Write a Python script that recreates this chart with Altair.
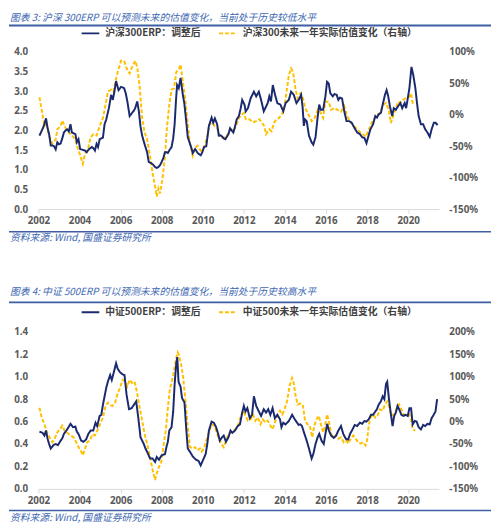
import altair as alt
import pandas as pd

# ---------------- data ----------------
HS_TITLE = "图表 3:  沪深 300ERP 可以预测未来的估值变化，当前处于历史较低水平"
ZZ_TITLE = "图表 4:  中证 500ERP 可以预测未来的估值变化，当前处于历史较高水平"
SOURCE = "资料来源: Wind, 国盛证券研究所"
HS_S1 = "沪深300ERP：调整后"
HS_S2 = "沪深300未来一年实际估值变化（右轴）"
ZZ_S1 = "中证500ERP：调整后"
ZZ_S2 = "中证500未来一年实际估值变化（右轴）"

X_TICKS = [2002, 2004, 2006, 2008, 2010, 2012, 2014, 2016, 2018, 2020]
HS_LEFT_TICKS = [0.0, 0.5, 1.0, 1.5, 2.0, 2.5, 3.0, 3.5, 4.0]
HS_RIGHT_TICKS = [-150, -100, -50, 0, 50, 100]
ZZ_LEFT_TICKS = [0.0, 0.2, 0.4, 0.6, 0.8, 1.0, 1.2, 1.4]
ZZ_RIGHT_TICKS = [-150, -100, -50, 0, 50, 100, 150, 200]

hs_erp_x = [2002.05, 2002.25, 2002.37, 2002.45, 2002.52, 2002.6, 2002.68, 2002.76, 2002.84, 2002.92,
            2003.0, 2003.08, 2003.16, 2003.24, 2003.32, 2003.4, 2003.48, 2003.56, 2003.63, 2003.72,
            2003.8, 2003.87, 2003.95, 2004.03, 2004.15, 2004.27, 2004.35, 2004.45, 2004.6, 2004.68,
            2004.75, 2004.83, 2004.9, 2004.98, 2005.06, 2005.14, 2005.22, 2005.3, 2005.43, 2005.54,
            2005.62, 2005.7, 2005.78, 2005.9, 2006.02, 2006.1, 2006.17, 2006.25, 2006.33, 2006.44,
            2006.56, 2006.64, 2006.71, 2006.81, 2006.89, 2006.97, 2007.05, 2007.13, 2007.21, 2007.29,
            2007.37, 2007.45, 2007.52, 2007.6, 2007.68, 2007.76, 2007.84, 2007.92, 2008.0, 2008.08,
            2008.16, 2008.24, 2008.3, 2008.4, 2008.48, 2008.56, 2008.63, 2008.7, 2008.75, 2008.83,
            2008.92, 2009.03, 2009.1, 2009.16, 2009.22, 2009.27, 2009.38, 2009.45, 2009.51, 2009.63,
            2009.75, 2009.82, 2009.9, 2009.98, 2010.06, 2010.17, 2010.3, 2010.43, 2010.51, 2010.59,
            2010.7, 2010.78, 2010.86, 2010.94, 2011.02, 2011.1, 2011.25, 2011.33, 2011.41, 2011.49,
            2011.57, 2011.65, 2011.76, 2011.84, 2011.92, 2012.03, 2012.09, 2012.2, 2012.33, 2012.49,
            2012.6, 2012.73, 2012.84, 2012.97, 2013.08, 2013.16, 2013.24, 2013.32, 2013.41, 2013.52,
            2013.63, 2013.7, 2013.78, 2013.92, 2014.03, 2014.19, 2014.3, 2014.43, 2014.56, 2014.67,
            2014.79, 2014.86, 2014.92, 2014.98, 2015.06, 2015.17, 2015.3, 2015.38, 2015.49, 2015.59,
            2015.67, 2015.75, 2015.86, 2015.97, 2016.05, 2016.13, 2016.21, 2016.33, 2016.41, 2016.52,
            2016.6, 2016.68, 2016.78, 2016.89, 2017.0, 2017.13, 2017.25, 2017.37, 2017.52, 2017.65,
            2017.76, 2017.87, 2017.97, 2018.05, 2018.16, 2018.29, 2018.4, 2018.48, 2018.56, 2018.67,
            2018.76, 2018.87, 2018.95, 2019.03, 2019.11, 2019.22, 2019.3, 2019.4, 2019.51, 2019.62,
            2019.71, 2019.83, 2019.9, 2019.98, 2020.06, 2020.16, 2020.25, 2020.35, 2020.43, 2020.51,
            2020.62, 2020.73, 2020.83, 2020.94, 2021.05, 2021.14, 2021.25, 2021.33, 2021.43]
hs_erp_v = [1.87, 2.1, 2.31, 2.05, 1.91, 1.62, 1.62, 1.6, 1.52, 1.7,
            1.65, 1.67, 1.8, 1.95, 2.0, 2.03, 1.98, 2.16, 1.95, 1.93,
            1.91, 1.7, 1.78, 1.53, 1.51, 1.49, 1.45, 1.52, 1.58, 1.55,
            1.49, 1.66, 1.58, 1.78, 1.8, 1.82, 2.16, 2.28, 2.57, 2.91,
            2.78, 3.0, 3.26, 3.03, 3.11, 3.1, 3.08, 2.95, 2.74, 2.37,
            2.45, 2.5, 2.57, 2.74, 2.49, 2.1, 1.87, 1.72, 1.58, 1.45,
            1.2, 1.18, 1.16, 1.12, 1.07, 1.05, 1.07, 1.12, 1.2, 1.3,
            1.45, 1.45, 1.43, 1.52, 1.58, 1.8, 2.16, 2.8, 3.16, 3.08,
            3.34, 2.91, 2.7, 2.41, 2.1, 1.83, 1.66, 1.55, 1.43, 1.53,
            1.43, 1.4, 1.37, 1.45, 1.58, 1.6, 2.12, 2.33, 2.2, 2.31,
            2.16, 1.87, 1.88, 1.85, 1.8, 1.78, 1.91, 2.06, 2.0, 1.95,
            2.1, 2.28, 2.37, 2.55, 2.78, 2.66, 2.49, 2.57, 2.82, 2.99,
            2.87, 2.99, 2.78, 2.49, 2.61, 2.7, 2.87, 2.74, 3.16, 2.91,
            2.7, 2.68, 2.66, 2.49, 2.7, 2.78, 2.99, 2.91, 2.7, 2.78,
            2.91, 2.6, 2.12, 2.28, 2.24, 1.87, 1.7, 1.64, 1.83, 2.33,
            2.66, 2.53, 2.53, 2.87, 3.24, 3.2, 2.95, 2.87, 2.93, 2.91,
            2.78, 2.84, 2.82, 2.49, 2.24, 2.24, 2.2, 2.08, 1.95, 1.91,
            1.83, 1.81, 1.68, 1.83, 2.03, 2.16, 2.37, 2.33, 2.41, 2.45,
            2.66, 2.91, 3.03, 2.87, 2.62, 2.37, 2.57, 2.53, 2.62, 2.7,
            2.57, 2.7, 2.57, 2.82, 3.08, 3.62, 3.41, 3.08, 2.7, 2.37,
            2.16, 2.16, 2.03, 1.95, 1.84, 2.03, 2.2, 2.2, 2.14]

hs_chg_x = [2002.05, 2002.2, 2002.3, 2002.37, 2002.52, 2002.68, 2002.84, 2002.92, 2003.08, 2003.16,
            2003.32, 2003.48, 2003.63, 2003.8, 2003.87, 2004.03, 2004.16, 2004.27, 2004.43, 2004.54,
            2004.67, 2004.83, 2004.98, 2005.14, 2005.27, 2005.38, 2005.54, 2005.65, 2005.78, 2005.9,
            2006.02, 2006.17, 2006.33, 2006.44, 2006.56, 2006.71, 2006.81, 2006.92, 2007.05, 2007.17,
            2007.29, 2007.44, 2007.56, 2007.68, 2007.76, 2007.84, 2007.92, 2008.03, 2008.16, 2008.24,
            2008.37, 2008.48, 2008.6, 2008.71, 2008.84, 2008.92, 2009.03, 2009.16, 2009.27, 2009.38,
            2009.51, 2009.63, 2009.75, 2009.9, 2010.06, 2010.21, 2010.33, 2010.46, 2010.59, 2010.7,
            2010.81, 2010.94, 2011.1, 2011.25, 2011.37, 2011.49, 2011.65, 2011.76, 2011.89, 2012.0,
            2012.1, 2012.27, 2012.43, 2012.6, 2012.76, 2012.87, 2013.0, 2013.08, 2013.24, 2013.35,
            2013.48, 2013.6, 2013.71, 2013.84, 2013.95, 2014.06, 2014.19, 2014.3, 2014.4, 2014.51,
            2014.62, 2014.75, 2014.87, 2015.0, 2015.15, 2015.3, 2015.45, 2015.6, 2015.7, 2015.86,
            2015.97, 2016.13, 2016.25, 2016.41, 2016.56, 2016.73, 2016.89, 2017.02, 2017.21, 2017.37,
            2017.52, 2017.68, 2017.84, 2017.92, 2018.05, 2018.19, 2018.32, 2018.48, 2018.63, 2018.79,
            2018.92, 2019.05, 2019.16, 2019.27, 2019.4, 2019.51, 2019.62, 2019.75, 2019.9, 2020.06,
            2020.14, 2020.22, 2020.33]
hs_chg_v = [28, 0, -18, -12, -33, -46, -39, -23, -18, -9,
            -21, -28, -33, -39, -49, -64, -78, -62, -52, -36,
            -31, -33, -18, -5, 16, 37, 40, 37, 58, 73,
            86, 86, 71, 66, 76, 86, 76, 47, -5, -28,
            -39, -67, -93, -114, -130, -117, -125, -104, -67, -26,
            16, 40, 42, 68, 73, 80, 53, 21, -15, -46,
            -65, -52, -49, -57, -52, -36, -15, -12, -18, -20,
            -33, -36, -36, -30, -23, -26, -15, -5, 0, 3,
            -7, -7, -12, -10, -7, -12, -18, -31, -23, -26,
            -12, -7, -5, 0, 8, 32, 63, 74, 68, 42,
            26, 34, 27, 10, 0, -10, -5, 8, 6, -5,
            21, 21, 8, 11, 8, 5, 14, -2, -12, -18,
            -23, -28, -32, -35, -26, -15, -7, 0, 3, 16,
            19, 8, -13, -2, 11, 21, 19, 24, 27, 29,
            34, 19, 16]

zz_erp_x = [2002.05, 2002.2, 2002.29, 2002.37, 2002.44, 2002.52, 2002.6, 2002.73, 2002.84, 2002.95,
            2003.08, 2003.16, 2003.24, 2003.4, 2003.56, 2003.68, 2003.8, 2003.87, 2003.95, 2004.08,
            2004.19, 2004.32, 2004.43, 2004.54, 2004.67, 2004.78, 2004.86, 2004.98, 2005.06, 2005.14,
            2005.22, 2005.3, 2005.38, 2005.49, 2005.57, 2005.67, 2005.78, 2005.86, 2005.97, 2006.1,
            2006.19, 2006.29, 2006.41, 2006.54, 2006.65, 2006.76, 2006.86, 2006.97, 2007.05, 2007.13,
            2007.21, 2007.29, 2007.44, 2007.56, 2007.68, 2007.76, 2007.87, 2008.0, 2008.16, 2008.24,
            2008.3, 2008.37, 2008.48, 2008.56, 2008.63, 2008.71, 2008.76, 2008.82, 2008.92, 2008.99,
            2009.11, 2009.19, 2009.27, 2009.38, 2009.51, 2009.67, 2009.79, 2009.9, 2010.02, 2010.14,
            2010.22, 2010.3, 2010.43, 2010.54, 2010.65, 2010.75, 2010.83, 2010.94, 2011.02, 2011.13,
            2011.25, 2011.35, 2011.44, 2011.57, 2011.7, 2011.81, 2011.92, 2012.0, 2012.08, 2012.17,
            2012.29, 2012.4, 2012.49, 2012.6, 2012.73, 2012.84, 2012.97, 2013.08, 2013.19, 2013.29,
            2013.4, 2013.51, 2013.63, 2013.76, 2013.83, 2013.92, 2014.03, 2014.19, 2014.35, 2014.48,
            2014.59, 2014.67, 2014.75, 2014.83, 2014.95, 2015.06, 2015.17, 2015.3, 2015.38, 2015.49,
            2015.59, 2015.67, 2015.78, 2015.89, 2015.98, 2016.06, 2016.14, 2016.25, 2016.38, 2016.49,
            2016.6, 2016.73, 2016.84, 2016.97, 2017.08, 2017.17, 2017.29, 2017.4, 2017.52, 2017.65,
            2017.76, 2017.87, 2017.97, 2018.08, 2018.19, 2018.29, 2018.4, 2018.48, 2018.56, 2018.67,
            2018.76, 2018.84, 2018.92, 2018.98, 2019.06, 2019.14, 2019.24, 2019.32, 2019.4, 2019.48,
            2019.56, 2019.67, 2019.78, 2019.87, 2019.98, 2020.06, 2020.14, 2020.22, 2020.32, 2020.41,
            2020.51, 2020.62, 2020.73, 2020.83, 2020.94, 2021.05, 2021.14, 2021.24, 2021.33, 2021.41]
zz_erp_v = [0.51, 0.5, 0.475, 0.52, 0.45, 0.4, 0.36, 0.39, 0.4, 0.39,
            0.43, 0.45, 0.49, 0.53, 0.58, 0.55, 0.555, 0.51, 0.49, 0.43,
            0.42, 0.44, 0.49, 0.52, 0.52, 0.59, 0.56, 0.65, 0.66, 0.75,
            0.825, 0.9, 0.955, 1.015, 0.97, 1.04, 1.12, 1.07, 1.04, 1.02,
            1.015, 0.84, 0.71, 0.72, 0.75, 0.78, 0.635, 0.46, 0.43, 0.4,
            0.36, 0.33, 0.27, 0.27, 0.24, 0.285, 0.26, 0.3, 0.31, 0.38,
            0.42, 0.52, 0.55, 0.69, 0.93, 1.12, 1.175, 0.955, 0.91, 0.81,
            0.77, 0.55, 0.36, 0.33, 0.29, 0.26, 0.25, 0.21, 0.26, 0.31,
            0.4, 0.52, 0.6, 0.59, 0.55, 0.49, 0.43, 0.46, 0.475, 0.42,
            0.46, 0.52, 0.5, 0.52, 0.56, 0.575, 0.68, 0.74, 0.69, 0.72,
            0.63, 0.66, 0.825, 0.74, 0.69, 0.65, 0.71, 0.68, 0.71, 0.66,
            0.72, 0.63, 0.66, 0.62, 0.55, 0.59, 0.575, 0.605, 0.66, 0.62,
            0.59, 0.57, 0.575, 0.56, 0.49, 0.43, 0.36, 0.27, 0.31, 0.4,
            0.46, 0.49, 0.43, 0.4, 0.5, 0.58, 0.52, 0.475, 0.455, 0.475,
            0.52, 0.56, 0.49, 0.445, 0.44, 0.49, 0.53, 0.57, 0.56, 0.59,
            0.58, 0.605, 0.6, 0.62, 0.66, 0.66, 0.69, 0.71, 0.75, 0.78,
            0.825, 0.8, 0.935, 0.955, 0.81, 0.69, 0.56, 0.65, 0.68, 0.74,
            0.71, 0.66, 0.65, 0.66, 0.65, 0.72, 0.72, 0.575, 0.605, 0.6,
            0.55, 0.53, 0.57, 0.56, 0.58, 0.575, 0.63, 0.66, 0.69, 0.8]

zz_chg_x = [2002.05, 2002.16, 2002.29, 2002.41, 2002.57, 2002.68, 2002.79, 2002.92, 2003.05, 2003.16,
            2003.27, 2003.4, 2003.56, 2003.71, 2003.84, 2003.95, 2004.06, 2004.16, 2004.27, 2004.38,
            2004.51, 2004.63, 2004.75, 2004.9, 2005.03, 2005.14, 2005.27, 2005.38, 2005.49, 2005.6,
            2005.73, 2005.84, 2005.97, 2006.1, 2006.22, 2006.33, 2006.44, 2006.56, 2006.68, 2006.79,
            2006.9, 2007.02, 2007.17, 2007.33, 2007.46, 2007.56, 2007.68, 2007.76, 2007.87, 2007.98,
            2008.1, 2008.2, 2008.3, 2008.4, 2008.55, 2008.7, 2008.78, 2008.84, 2008.94, 2009.05,
            2009.16, 2009.27, 2009.38, 2009.51, 2009.63, 2009.75, 2009.86, 2009.95, 2010.06, 2010.17,
            2010.3, 2010.43, 2010.54, 2010.65, 2010.78, 2010.9, 2011.02, 2011.14, 2011.25, 2011.37,
            2011.49, 2011.6, 2011.73, 2011.86, 2011.97, 2012.08, 2012.2, 2012.33, 2012.44, 2012.56,
            2012.68, 2012.81, 2012.92, 2013.05, 2013.16, 2013.29, 2013.4, 2013.51, 2013.63, 2013.76,
            2013.87, 2013.98, 2014.1, 2014.24, 2014.35, 2014.43, 2014.51, 2014.62, 2014.75, 2014.87,
            2014.98, 2015.1, 2015.21, 2015.33, 2015.43, 2015.54, 2015.65, 2015.75, 2015.86, 2015.97,
            2016.05, 2016.14, 2016.25, 2016.38, 2016.49, 2016.6, 2016.73, 2016.86, 2016.97, 2017.08,
            2017.21, 2017.33, 2017.44, 2017.56, 2017.68, 2017.81, 2017.92, 2018.0, 2018.08, 2018.16,
            2018.29, 2018.4, 2018.51, 2018.63, 2018.76, 2018.87, 2018.98, 2019.08, 2019.19, 2019.3,
            2019.43, 2019.56, 2019.67, 2019.78, 2019.92, 2020.05, 2020.14, 2020.22, 2020.35]
zz_chg_v = [31, 9, -6, -24, -38, -46, -38, -24, -17, -9,
            -20, -25, -31, -35, -46, -57, -64, -75, -60, -46,
            -42, -28, -31, -17, -2, 9, 35, 42, 37, 35,
            42, 60, 75, 93, 89, 78, 93, 86, 89, 67,
            38, 9, -28, -57, -86, -108, -130, -115, -101, -90,
            -50, -20, 30, 72, 100, 140, 154, 148, 129, 97,
            45, -13, -57, -60, -57, -64, -60, -67, -60, -42,
            -24, -6, -9, -20, -38, -49, -57, -42, -28, -24,
            -20, -17, -6, 13, 24, 13, 2, 5, 16, 2,
            9, -6, 5, -2, 2, -9, -17, -2, 13, 24,
            16, 27, 45, 82, 97, 86, 60, 38, 40, 38,
            2, -6, -9, -35, -9, 5, 13, -6, -24, -6,
            16, 2, -28, -35, -31, -38, -35, -46, -42, -49,
            -38, -31, -38, -46, -49, -46, -53, -42, -9, 9,
            16, 9, 13, 27, 24, 38, 45, 31, 13, 16,
            27, 38, 27, 16, 13, 16, 5, -17, -20]

# ---------------- styles ----------------
NAVY = "#1B2A6E"
GOLD = "#FFC000"
TITLE_BLUE = "#4068B2"
RULE_BLUE = "#3F5FA5"
LABEL_GREY = "#595959"
CJK = "Noto Sans CJK SC"
NUM = "Noto Sans"
PW, PH = 408, 160


def panel(title, s1, s2, ex, ev, cx, cv, ldom, lticks, lfmt, rdom, rticks,
          title_y, rule_y, legend_y, bottom_rule_y, source_y):
    d1 = pd.DataFrame({"year": ex, "v": ev, "series": s1})
    d2 = pd.DataFrame({"year": cx, "v": cv, "series": s2})

    leg = alt.Legend(title=None, orient="none", legendX=43, legendY=legend_y,
                     direction="horizontal", symbolType="stroke", symbolSize=324,
                     symbolStrokeWidth=2, labelFont=CJK, labelFontSize=10,
                     labelFontWeight="bold", labelColor="#404040", columnPadding=14,
                     labelOffset=5, padding=0, labelLimit=400)
    color = alt.Color("series:N", scale=alt.Scale(domain=[s1, s2], range=[NAVY, GOLD]), legend=leg)
    dash = alt.StrokeDash("series:N", scale=alt.Scale(domain=[s1, s2], range=[[1, 0], [4, 2]]), legend=leg)

    xenc = alt.X("year:Q", scale=alt.Scale(domain=[2002, 2021.5], nice=False, zero=False),
                 axis=alt.Axis(values=X_TICKS, format="d", title=None, grid=False,
                               domainColor="#D9D9D9", tickColor="#D9D9D9", tickSize=4,
                               labelPadding=3, labelFlush=False, labelOverlap=False,
                               labelFont=NUM, labelFontSize=10, labelFontWeight="bold",
                               labelColor=LABEL_GREY))

    right = alt.Chart(d2).mark_line(strokeWidth=2).encode(
        x=xenc,
        y=alt.Y("v:Q", scale=alt.Scale(domain=rdom, nice=False, zero=False),
                axis=alt.Axis(orient="right", values=rticks, title=None, grid=False,
                              domain=False, ticks=False, tickSize=0, labelPadding=10,
                              labelExpr="datum.value + '%'", labelFont=NUM,
                              labelFontSize=10, labelFontWeight="bold",
                              labelColor=LABEL_GREY)),
        color=color, strokeDash=dash)

    left = alt.Chart(d1).mark_line(strokeWidth=2).encode(
        x=xenc,
        y=alt.Y("v:Q", scale=alt.Scale(domain=ldom, nice=False, zero=False),
                axis=alt.Axis(orient="left", values=lticks, format=lfmt, title=None,
                              grid=False, domain=False, ticks=False, tickSize=0,
                              labelPadding=11, labelFont=NUM, labelFontSize=10,
                              labelFontWeight="bold", labelColor=LABEL_GREY)),
        color=color, strokeDash=dash)

    ttl = alt.Chart(pd.DataFrame({"t": [title]})).mark_text(
        align="left", baseline="middle", font=CJK, fontSize=10, fontStyle="italic",
        color=TITLE_BLUE).encode(text="t:N", x=alt.value(-29), y=alt.value(title_y))
    src = alt.Chart(pd.DataFrame({"t": [SOURCE]})).mark_text(
        align="left", baseline="middle", font=CJK, fontSize=10, fontStyle="italic",
        color=TITLE_BLUE).encode(text="t:N", x=alt.value(-29), y=alt.value(source_y))
    r1 = alt.Chart(pd.DataFrame({"k": [1]})).mark_rule(color=RULE_BLUE, strokeWidth=2).encode(
        x=alt.value(-30), x2=alt.value(461), y=alt.value(rule_y))
    r2 = alt.Chart(pd.DataFrame({"k": [1]})).mark_rule(color=RULE_BLUE, strokeWidth=1.5).encode(
        x=alt.value(-30), x2=alt.value(461), y=alt.value(bottom_rule_y))

    return alt.layer(right, left, ttl, r1, r2, src).resolve_scale(y="independent").properties(
        width=PW, height=PH)


p1 = panel(HS_TITLE, HS_S1, HS_S2, hs_erp_x, hs_erp_v, hs_chg_x, hs_chg_v,
           [0, 4], HS_LEFT_TICKS, ".1f", [-150, 100], HS_RIGHT_TICKS,
           title_y=-35, rule_y=-27, legend_y=-29, bottom_rule_y=183, source_y=190)
p2 = panel(ZZ_TITLE, ZZ_S1, ZZ_S2, zz_erp_x, zz_erp_v, zz_chg_x, zz_chg_v,
           [0, 1.4], ZZ_LEFT_TICKS, ".1f", [-150, 200], ZZ_RIGHT_TICKS,
           title_y=-41, rule_y=-30, legend_y=-30, bottom_rule_y=182, source_y=190)

chart = alt.vconcat(p1, p2, spacing=125, bounds="flush").resolve_scale(
    x="independent", y="independent", color="independent", strokeDash="independent"
).properties(padding=0, background="white").configure(font=CJK).configure_view(strokeWidth=0)

chart.save("out.html", embed_options={"renderer": "svg", "actions": False})
